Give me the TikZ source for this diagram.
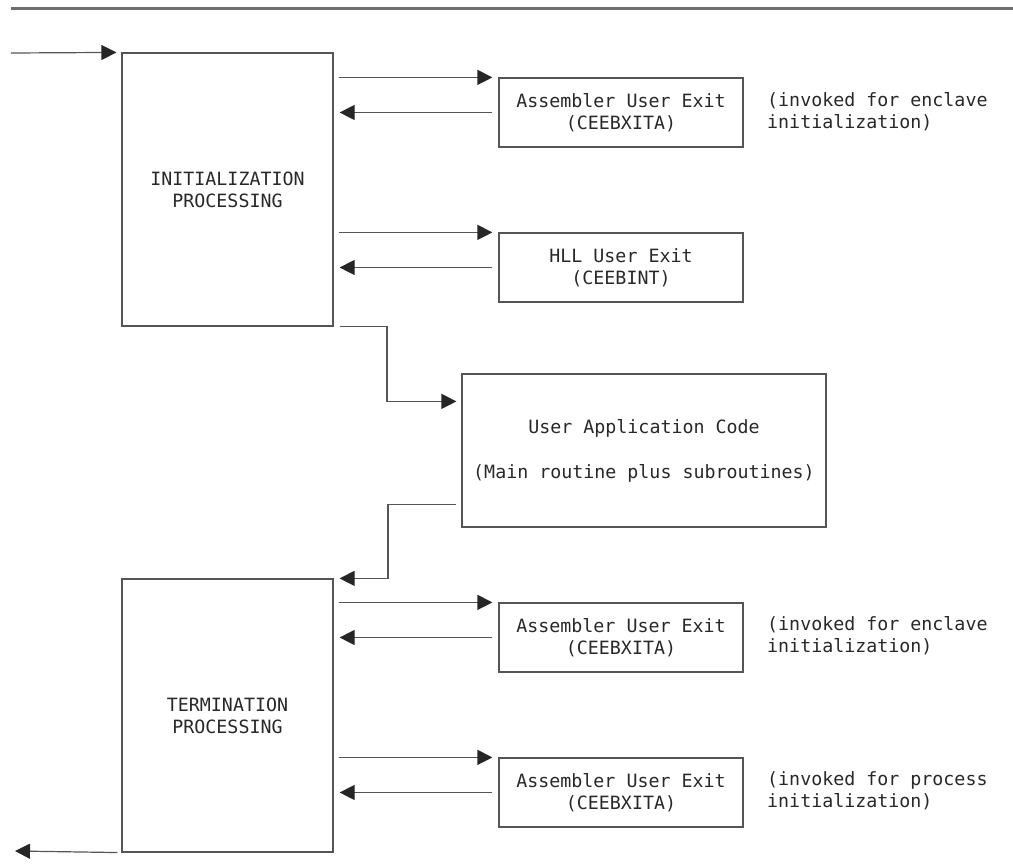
\documentclass[tikz,border=0pt]{standalone}
\usepackage{fontspec}
\setmonofont{DejaVu Sans Mono}
\usetikzlibrary{arrows.meta,calc}
\definecolor{linegray}{RGB}{85,85,85}
\definecolor{rulegray}{RGB}{110,110,110}
\definecolor{textgray}{RGB}{40,40,40}
\begin{document}
\begin{tikzpicture}[x=1pt,y=-1pt,
  every node/.style={font=\ttfamily\fontsize{18.3}{22}\selectfont, text=textgray},
  box/.style={draw=linegray, line width=1.2pt, inner sep=0pt, align=center},
  bigbox/.style={box, minimum width=211pt, minimum height=273pt},
  exitbox/.style={box, minimum width=244pt, minimum height=69pt},
  note/.style={anchor=west, align=left, inner sep=0pt},
  arr/.style={draw=linegray, line width=1.2pt, -{Triangle[length=15pt,width=15pt,color=black!85]}},
  rule/.style={draw=rulegray, line width=2.5pt}]
\useasboundingbox (0,0) rectangle (1013,865);

% heading rule
\coordinate (ruleL) at (11,8.5);
\coordinate (ruleR) at (1013,8.5);
\draw[rule] (ruleL) -- (ruleR);

% processing blocks
\node[bigbox] (init) at (227.5,189.5) {INITIALIZATION\\PROCESSING};
\node[bigbox] (term) at (227.5,715.5) {TERMINATION\\PROCESSING};

% user exits
\node[exitbox] (ax1) at (621,112.5) {Assembler User Exit\\(CEEBXITA)};
\node[exitbox] (hll) at (621,267.5) {HLL User Exit\\(CEEBINT)};
\node[exitbox] (ax3) at (621,637.5) {Assembler User Exit\\(CEEBXITA)};
\node[exitbox] (ax4) at (621,792.5) {Assembler User Exit\\(CEEBXITA)};

% application code
\node[box, minimum width=364pt, minimum height=153pt] (uac) at (644,450.5)
  {User Application Code\\[23pt](Main routine plus subroutines)};

% remarks beside the exits
\node[note] (n1) at (767,112) {(invoked for enclave\\initialization)};
\node[note] (n3) at (767,636) {(invoked for enclave\\initialization)};
\node[note] (n4) at (767,791) {(invoked for process\\initialization)};

% entry and exit
\coordinate (in) at (11,53);
\coordinate (out) at (15,851);
\draw[arr, shorten >=5pt] (in) -- (init.north west);
\draw[arr, shorten <=4pt] (term.south west) -- (out);

% calls to and returns from the exits
\foreach \src/\dst in {init/ax1, init/hll, term/ax3, term/ax4}{
  \draw[arr, shorten <=5pt, shorten >=6pt] (\src.east |- \dst.north west) -- (\dst.north west);
  \draw[arr, shorten <=6pt, shorten >=6pt] (\dst.west) -- (\src.east |- \dst.west);
}

% into and out of the application code
\coordinate (c1) at (387,0);
\coordinate (c2) at (388,0);
\draw[arr, shorten >=5pt] ($(init.south east)+(6,0)$) -- (c1 |- init.south) -- (c1 |- {$(uac.north)+(0,28)$}) -- ($(uac.north west)+(0,28)$);
\draw[arr, shorten >=6pt] ($(uac.south west)+(-5,-23)$) -- (c2 |- {$(uac.south)+(0,-23)$}) -- (c2 |- term.north) -- (term.north east);
\end{tikzpicture}
\end{document}
